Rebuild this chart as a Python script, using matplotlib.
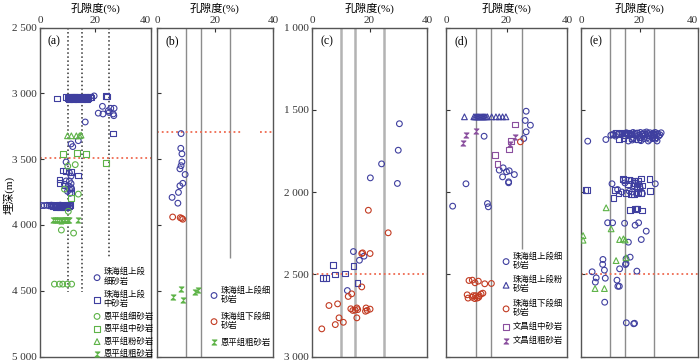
import matplotlib

matplotlib.use("Agg")
import matplotlib.pyplot as plt
from matplotlib.ticker import FuncFormatter

plt.rcParams["font.family"] = ["Liberation Serif", "Noto Sans CJK SC"]

BLUE = "#3f3f9f"
GREEN = "#5db347"
RED = "#c23b22"
PURPLE = "#8a4f9e"
LINE_RED = "#ef6a50"

# ---- panel (a) ----
a_zu_fine_por = [19.5, 22.5, 25.5, 26.7, 24.6, 24.9, 26.4, 22.7, 21.0, 26.6, 16.3, 13.8, 11.2, 11.8,
                 9.4, 10.6, 11.2, 9.4, 10.6, 11.2, 8.8, 10.2, 11.2, 10.6, 11.4, 9.9, 10.8,
                 0.6, 1.5, 2.5, 3.3, 4.1, 4.9, 5.7, 6.5, 7.3, 8.0, 8.8, 9.6, 10.3]
a_zu_fine_dep = [3020, 3099, 3114, 3114, 3132, 3146, 3157, 3157, 3151, 3170, 3218, 3360, 3385, 3405,
                 3522, 3604, 3629, 3666, 3666, 3686, 3691, 3703, 3716, 3728, 3728, 3745, 3760,
                 3853, 3853, 3851, 3855, 3850, 3856, 3852, 3855, 3850, 3857, 3853, 3856, 3852]
a_zu_med_por = [6.1, 23.7, 24.2, 26.4, 9.4, 9.9, 10.3, 10.7, 11.1, 11.5, 11.9, 12.3, 12.7, 13.1, 13.5,
                13.9, 14.3, 14.7, 15.1, 15.5, 15.9, 16.3, 16.7, 17.1, 17.5, 17.9, 18.4, 10.5, 12.0,
                13.6, 15.3, 16.9, 8.2, 9.5, 11.2, 13.8, 7.0, 7.0, 8.9, 11.3,
                4.0, 4.8, 5.5, 6.2, 6.9, 7.5, 8.1, 8.7, 9.3, 9.9, 10.5, 11.0, 5.8, 7.2, 8.4, 9.6]
a_zu_med_dep = [3040, 3022, 3025, 3306, 3030, 3036, 3026, 3033, 3040, 3028, 3035, 3030, 3025, 3038, 3031,
                3027, 3034, 3040, 3029, 3035, 3031, 3026, 3036, 3030, 3033, 3028, 3032, 3044, 3042,
                3045, 3043, 3041, 3587, 3592, 3597, 3625, 3655, 3679, 3700, 3753,
                3850, 3855, 3852, 3858, 3850, 3856, 3853, 3860, 3851, 3857, 3854, 3850, 3862, 3864, 3862, 3864]
a_ep_fine_por = [12.7, 10.0, 8.8, 13.8, 10.2, 7.7, 12.1, 5.2, 7.0, 8.2, 9.8, 11.4]
a_ep_fine_dep = [3542, 3554, 3728, 3766, 3897, 4039, 4062, 4450, 4450, 4450, 4450, 4450]
a_ep_med_por = [8.3, 13.3, 16.5, 23.7, 11.2]
a_ep_med_dep = [3462, 3455, 3462, 3530, 3796]
a_ep_silt_por = [9.9, 11.3, 13.1, 14.2, 14.8]
a_ep_silt_dep = [3323, 3323, 3323, 3323, 3318]
a_ep_coarse_por = [4.6, 5.4, 6.1, 6.8, 7.4, 8.0, 8.6, 9.1, 9.6, 10.1, 10.6, 13.6]
a_ep_coarse_dep = [3966, 3962, 3965, 3961, 3967, 3963, 3966, 3962, 3965, 3963, 3966, 3964]

# ---- panel (b) ----
b_zu_fine_por = [8.3, 8.2, 8.6, 8.6, 8.3, 7.9, 9.7, 8.9, 7.9, 7.4, 5.2, 7.2]
b_zu_fine_dep = [3306, 3418, 3460, 3522, 3550, 3574, 3617, 3684, 3703, 3753, 3791, 3835]
b_zl_fine_por = [5.4, 8.0, 8.9, 8.5]
b_zl_fine_dep = [3940, 3945, 3957, 3950]
b_ep_coarse_por = [5.4, 8.3, 8.9, 13.2, 14.2]
b_ep_coarse_dep = [4549, 4487, 4569, 4512, 4494]

# ---- panel (c) ----
c_zu_fine_por = [30.4, 30.0, 24.2, 20.3, 29.7, 14.4, 18.1, 16.5, 12.3]
c_zu_fine_dep = [1585, 1746, 1829, 1914, 1948, 2362, 2390, 2415, 2599]
c_zu_med_por = [7.2, 14.4, 8.0, 11.6, 3.9, 4.9, 15.8]
c_zu_med_dep = [2445, 2451, 2502, 2495, 2522, 2524, 2552]
c_zl_fine_por = [19.6, 26.5, 17.3, 17.6, 20.2, 17.3, 13.8, 12.6, 8.9, 5.9, 13.5, 14.2, 15.0, 15.6,
                 15.9, 18.8, 19.2, 20.2, 18.6, 9.4, 15.6, 10.9, 8.1, 3.4]
c_zl_fine_dep = [2111, 2248, 2374, 2370, 2374, 2577, 2619, 2635, 2680, 2690, 2710, 2720, 2718, 2705,
                 2715, 2705, 2720, 2712, 2725, 2765, 2765, 2792, 2806, 2832]

# ---- panel (d) ----
d_zu_fine_por = [26.5, 26.2, 27.9, 26.5, 25.7, 12.6, 17.6, 18.9, 20.0, 20.9, 22.6, 18.7, 20.7, 20.7,
                 6.6, 2.2, 13.7, 14.0]
d_zu_fine_dep = [1509, 1565, 1594, 1634, 1675, 1661, 1867, 1853, 1877, 1871, 1894, 1908, 1938, 1944,
                 1950, 2086, 2070, 2090]
d_zu_silt_por = [6.1, 9.2, 9.6, 10.0, 10.4, 10.8, 11.2, 11.6, 12.0, 12.4, 12.8, 13.2, 13.7, 15.1,
                 16.5, 17.6, 18.7, 19.8]
d_zu_silt_dep = [1543] * 18
d_zl_fine_por = [24.6, 7.6, 8.7, 9.6, 10.7, 12.8, 15.0, 7.0, 7.3, 8.7, 9.8, 10.3, 11.0, 11.6, 10.8,
                 9.0, 12.2, 9.5]
d_zl_fine_dep = [1695, 2538, 2536, 2552, 2542, 2558, 2556, 2625, 2645, 2640, 2630, 2645, 2630, 2620,
                 2640, 2630, 2615, 2648]
d_wc_med_por = [22.7, 21.5, 20.9, 16.1, 17.0]
d_wc_med_dep = [1590, 1691, 1742, 1776, 1829]
d_wc_coarse_por = [6.7, 5.6, 9.8, 22.9, 21.2]
d_wc_coarse_dep = [1651, 1705, 1630, 1667, 1711]

# ---- panel (e) ----
e_fine_por = [10.2, 11.0, 11.8, 12.5, 14.0, 15.5, 16.2, 17.0, 17.8, 18.5, 19.2, 19.8, 20.3, 20.8,
              21.2, 21.6, 22.0, 22.4, 22.8, 23.2, 23.6, 24.0, 24.3, 24.7, 25.0, 25.4, 25.8, 26.2,
              26.6, 27.0, 27.4, 22.5, 23.5, 24.5, 25.5, 21.5, 18.0, 19.0, 26.0, 16.2, 23.0, 20.5,
              17.5, 2.3, 8.5,
              10.6, 25.4, 14.5, 17.2, 19.5, 18.0, 20.3, 17.5, 19.0, 21.0, 15.0, 16.5, 14.0, 12.5,
              9.1, 10.8, 14.9, 18.5, 19.7, 22.3, 16.2, 20.6, 16.8, 15.4, 15.4, 15.2, 7.5, 7.4, 8.0,
              3.8, 13.2, 19.1, 5.2, 4.9, 8.3, 12.3, 12.6, 13.1, 8.1, 15.5, 18.0, 18.3]
e_fine_dep = [1655, 1648, 1660, 1652, 1650, 1640, 1655, 1645, 1638, 1650, 1642, 1655, 1638, 1648,
              1660, 1640, 1652, 1635, 1645, 1658, 1640, 1650, 1662, 1642, 1655, 1638, 1650, 1645,
              1660, 1652, 1640, 1672, 1680, 1675, 1678, 1676, 1670, 1682, 1690, 1690, 1690, 1688,
              1684, 1691, 1681,
              1950, 1950, 1925, 1930, 1955, 1962, 1980, 2000, 2010, 2010, 1945, 1995, 2000, 1985,
              2187, 2187, 2190, 2202, 2187, 2238, 2305, 2289, 2396, 2406, 2435, 2441, 2410, 2440, 2475,
              2485, 2467, 2481, 2522, 2548, 2524, 2536, 2573, 2573, 2670, 2795, 2801, 2798]
e_med_por = [10.8, 12.0, 13.0, 13.8, 14.6, 15.4, 16.0, 17.2, 18.8, 21.0, 24.8, 14.5, 13.0, 17.5,
             19.5, 25.0, 20.0,
             14.3, 15.1, 18.0, 20.5, 23.4, 16.5, 19.5, 1.5, 2.0, 11.7, 23.7, 12.8, 11.1, 15.5, 17.0,
             18.0, 19.5, 20.5, 21.0, 19.0, 20.0, 16.0, 18.5,
             16.8, 18.5, 19.3, 20.8, 19.0]
e_med_dep = [1650, 1642, 1646, 1640, 1652, 1645, 1638, 1650, 1640, 1646, 1648, 1670, 1680, 1675,
             1676, 1668, 1665,
             1922, 1928, 1930, 1918, 1922, 1925, 1935, 1989, 1989, 1990, 1995, 2009, 2035, 2005, 2012,
             2010, 1998, 2004, 1960, 1965, 1970, 1950, 1945,
             2110, 2103, 2100, 2112, 2105]
e_silt_por = [8.6, 10.3, 0.7, 0.7, 13.2, 14.5, 15.1, 12.0, 15.4, 4.8, 8.0]
e_silt_dep = [2096, 2224, 2265, 2293, 2289, 2285, 2292, 2417, 2400, 2587, 2587]

# reference lines: porosity cut-offs and where each one stops, plus the boundary depths
ref_por = [10, 15, 25]
a_ref_end = [4510, 4510, 4250]
b_ref_end = [5000, 5000, 4255]
d_ref_end = [3000, 3000, 2345]
a_boundary = 3490
b_boundary = 3295
b_boundary_spans = [(0, 29), (35.5, 40)]
ce_boundary = 2500

HOURGLASS = [(-1, 1), (1, 1), (-1, -1), (1, -1)]
TOP, BOTTOM = 27.5, 356.5


def thousands(v, _):
    v = int(round(v))
    return f"{v // 1000} {v % 1000:03d}"


def hollow(ax, x, y, marker, color, label=None):
    ax.scatter(x, y, s=17, marker=marker, facecolors="none", edgecolors=color,
               linewidths=0.8, label=label, zorder=3)


def coarse(ax, x, y, color, label=None):
    ax.scatter(x, y, s=14, marker=HOURGLASS, facecolors=color, edgecolors=color,
               linewidths=0.6, label=label, zorder=3)


def setup(ax, ylim, yticks, labels):
    ax.set_xlim(0, 40)
    ax.set_ylim(ylim[1], ylim[0])
    ax.set_xticks([0, 20, 40])
    ax.set_yticks(yticks)
    ax.xaxis.set_ticks_position("top")
    ax.xaxis.set_label_position("top")
    ax.tick_params(axis="both", direction="in", length=3, width=0.8, labelsize=8, pad=2,
                   colors="#333333")
    ax.tick_params(axis="y", labelleft=labels)
    ax.yaxis.set_major_formatter(FuncFormatter(thousands))
    ax.set_xlabel("孔隙度(%)", fontsize=8)
    ax.xaxis.label.set_va("center")
    ax.xaxis.set_label_coords(0.5, 1 + 19 / (BOTTOM - TOP))
    for s in ax.spines.values():
        s.set_color("#555555")
        s.set_linewidth(1.0)


W, H = 700, 363
fig = plt.figure(figsize=(7, 3.63), dpi=100)


def make_ax(x0, x1):
    return fig.add_axes([x0 / W, 1 - BOTTOM / H, (x1 - x0) / W, (BOTTOM - TOP) / H])


ax_a = make_ax(40, 151)
ax_b = make_ax(157, 273)
ax_c = make_ax(312, 427)
ax_d = make_ax(446, 567)
ax_e = make_ax(581, 698)

deep = (2500, 5000)
deep_ticks = [2500, 3000, 3500, 4000, 4500, 5000]
shallow = (1000, 3000)
shallow_ticks = [1000, 1500, 2000, 2500, 3000]

setup(ax_a, deep, deep_ticks, True)
setup(ax_b, deep, deep_ticks, False)
setup(ax_c, shallow, shallow_ticks, True)
setup(ax_d, shallow, shallow_ticks, False)
setup(ax_e, shallow, shallow_ticks, False)

# keep the "40" of (a) clear of the "0" of (b), and the last "40" inside the canvas
ax_a.xaxis.get_major_ticks()[-1].label2.set_ha("right")
ax_e.xaxis.get_major_ticks()[-1].label2.set_ha("right")

ax_a.set_ylabel("埋深(m)", fontsize=8)
ax_a.yaxis.label.set_va("center")
ax_a.yaxis.set_label_coords(-0.285, 0.49)

# reference lines
ax_a.vlines(ref_por, deep[0], a_ref_end, colors="#333333", linestyles=":", linewidth=1.1, zorder=1)
ax_b.vlines(ref_por, deep[0], b_ref_end, colors="#8c8c8c", linewidth=1.0, zorder=1)
ax_c.vlines(ref_por, shallow[0], shallow[1], colors="#b3b3b3", linewidth=1.8, zorder=1)
ax_d.vlines(ref_por, shallow[0], d_ref_end, colors="#8c8c8c", linewidth=1.0, zorder=1)
ax_e.vlines(ref_por, shallow[0], shallow[1], colors="#8c8c8c", linewidth=1.0, zorder=1)

ax_a.axhline(a_boundary, color=LINE_RED, linestyle=":", linewidth=1.3, zorder=2)
for lo, hi in b_boundary_spans:
    ax_b.hlines(b_boundary, lo, hi, colors=LINE_RED, linestyles=":", linewidth=1.3, zorder=2)
ax_c.axhline(ce_boundary, color=LINE_RED, linestyle=":", linewidth=1.3, zorder=2)
ax_e.axhline(ce_boundary, color=LINE_RED, linestyle=":", linewidth=1.3, zorder=2)

# (a)
hollow(ax_a, a_zu_fine_por, a_zu_fine_dep, "o", BLUE, "珠海组上段\n细砂岩")
hollow(ax_a, a_zu_med_por, a_zu_med_dep, "s", BLUE, "珠海组上段\n中砂岩")
hollow(ax_a, a_ep_fine_por, a_ep_fine_dep, "o", GREEN, "恩平组细砂岩")
hollow(ax_a, a_ep_med_por, a_ep_med_dep, "s", GREEN, "恩平组中砂岩")
hollow(ax_a, a_ep_silt_por, a_ep_silt_dep, "^", GREEN, "恩平组粉砂岩")
coarse(ax_a, a_ep_coarse_por, a_ep_coarse_dep, GREEN, "恩平组粗砂岩")

# (b)
hollow(ax_b, b_zu_fine_por, b_zu_fine_dep, "o", BLUE, "珠海组上段细\n砂岩")
hollow(ax_b, b_zl_fine_por, b_zl_fine_dep, "o", RED, "珠海组下段细\n砂岩")
coarse(ax_b, b_ep_coarse_por, b_ep_coarse_dep, GREEN, "恩平组粗砂岩")

# (c)
hollow(ax_c, c_zu_fine_por, c_zu_fine_dep, "o", BLUE)
hollow(ax_c, c_zu_med_por, c_zu_med_dep, "s", BLUE)
hollow(ax_c, c_zl_fine_por, c_zl_fine_dep, "o", RED)

# (d)
hollow(ax_d, d_zu_fine_por, d_zu_fine_dep, "o", BLUE, "珠海组上段细\n砂岩")
hollow(ax_d, d_zu_silt_por, d_zu_silt_dep, "^", BLUE, "珠海组上段粉\n砂岩")
hollow(ax_d, d_zl_fine_por, d_zl_fine_dep, "o", RED, "珠海组下段细\n砂岩")
hollow(ax_d, d_wc_med_por, d_wc_med_dep, "s", PURPLE, "文昌组中砂岩")
coarse(ax_d, d_wc_coarse_por, d_wc_coarse_dep, PURPLE, "文昌组粗砂岩")

# (e)
hollow(ax_e, e_fine_por, e_fine_dep, "o", BLUE)
hollow(ax_e, e_med_por, e_med_dep, "s", BLUE)
hollow(ax_e, e_silt_por, e_silt_dep, "^", GREEN)

legend_kw = dict(frameon=False, fontsize=6, handlelength=0.8, handletextpad=0.4, borderpad=0,
                 borderaxespad=0, scatterpoints=1, loc="upper left")
ax_a.legend(bbox_to_anchor=(0.484, 0.27), labelspacing=0.5, **legend_kw)
ax_b.legend(bbox_to_anchor=(0.463, 0.215), labelspacing=1.0, **legend_kw)
ax_d.legend(bbox_to_anchor=(0.469, 0.318), labelspacing=0.7, **legend_kw)

for ax, tag in zip([ax_a, ax_b, ax_c, ax_d, ax_e], "abcde"):
    ax.text(0.07, 0.975, f"({tag})", transform=ax.transAxes, ha="left", va="top", fontsize=8.5)

fig.savefig("out.png", dpi=100, facecolor="white")
